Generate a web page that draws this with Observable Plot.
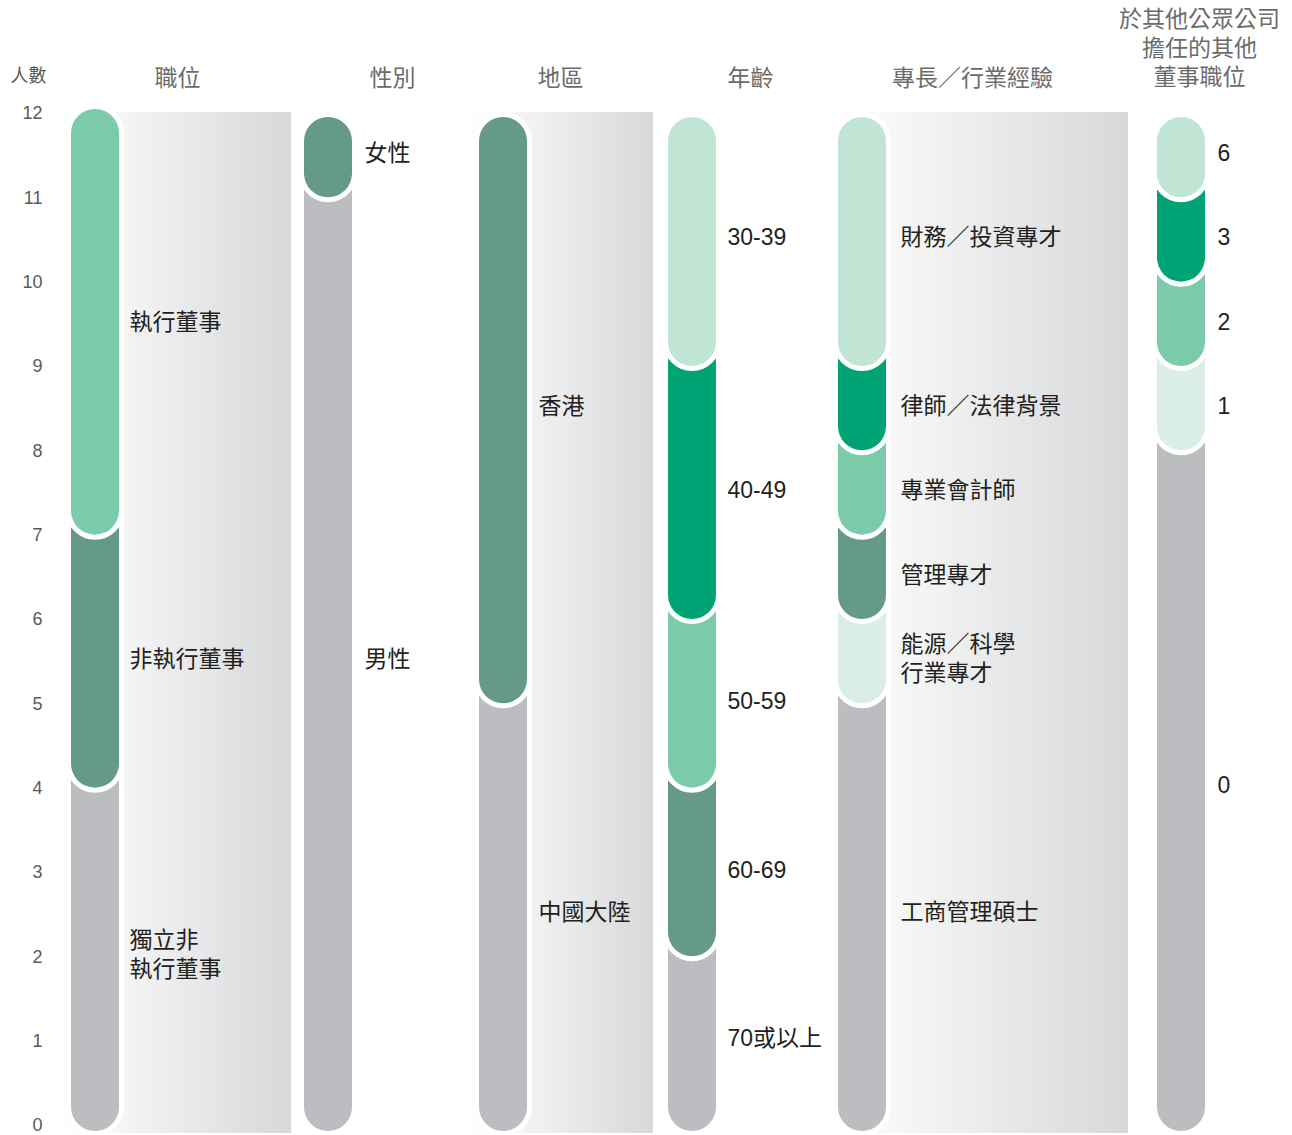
<!DOCTYPE html>
<html>
<head>
<meta charset="utf-8">
<script src="https://cdn.jsdelivr.net/npm/d3@7"></script>
<script src="https://cdn.jsdelivr.net/npm/@observablehq/plot@0.6"></script>
<style>
  html, body { margin: 0; padding: 0; background: #ffffff; }
  #chart { position: relative; width: 1292px; height: 1135px; overflow: hidden; }
  .bg { position: absolute; background: linear-gradient(to right, #ffffff 0%, #d7d8da 100%); }
  .col { position: absolute; top: 0; }
  .col svg { overflow: visible; }
</style>
</head>
<body>
<div id="chart"></div>
<script>
// ---------- data ----------
const yTicks = [0, 1, 2, 3, 4, 5, 6, 7, 8, 9, 10, 11, 12];
const yTitle = "人數";
const headers = ["職位", "性別", "地區", "年齡", "專長／行業經驗", "於其他公眾公司\n擔任的其他\n董事職位"];

const positionCats = ["執行董事", "非執行董事", "獨立非\n執行董事"];
const positionVals = [5, 3, 4];

const genderCats = ["女性", "男性"];
const genderVals = [1, 11];

const regionCats = ["香港", "中國大陸"];
const regionVals = [7, 5];

const ageCats = ["30-39", "40-49", "50-59", "60-69", "70或以上"];
const ageVals = [3, 3, 2, 2, 2];

const expertiseCats = ["財務／投資專才", "律師／法律背景", "專業會計師", "管理專才", "能源／科學\n行業專才", "工商管理碩士"];
const expertiseVals = [3, 1, 1, 1, 1, 5];

const otherCats = ["6", "3", "2", "1", "0"];
const otherVals = [1, 1, 1, 1, 8];

// ---------- styles ----------
const C = {
  mint: "#7bcbab", sage: "#649a87", grey: "#bcbdc0",
  green: "#00a474", pale: "#c1e5d5", paler: "#d9eee5"
};
const positionColors = [C.mint, C.sage, C.grey];
const genderColors = [C.sage, C.grey];
const regionColors = [C.sage, C.grey];
const ageColors = [C.pale, C.green, C.mint, C.sage, C.grey];
const expertiseColors = [C.pale, C.green, C.mint, C.sage, C.paler, C.grey];
const otherColors = [C.pale, C.green, C.mint, C.paler, C.grey];

const FONT = '"Liberation Sans", "Noto Sans CJK TC", "Noto Sans CJK SC", sans-serif';
const BAR = 48;

// ---------- layout (left, width, marginLeft, label gap, header dx/dy) ----------
const columns = [
  {key: "pos", cats: positionCats, vals: positionVals, colors: positionColors, left: 0, width: 291, ml: 71, gap: 10, hdx: 82, hdy: -37, topInset: -4, axis: true},
  {key: "gen", cats: genderCats, vals: genderVals, colors: genderColors, left: 291, width: 177, ml: 13, gap: 12, hdx: 64, hdy: -37, topInset: 4},
  {key: "reg", cats: regionCats, vals: regionVals, colors: regionColors, left: 468, width: 185, ml: 11, gap: 11, hdx: 57, hdy: -37, topInset: 4},
  {key: "age", cats: ageCats, vals: ageVals, colors: ageColors, left: 653, width: 180, ml: 15, gap: 11, hdx: 58, hdy: -37, topInset: 4},
  {key: "exp", cats: expertiseCats, vals: expertiseVals, colors: expertiseColors, left: 833, width: 275, ml: 5, gap: 14, hdx: 110, hdy: -37, topInset: 4},
  {key: "oth", cats: otherCats, vals: otherVals, colors: otherColors, left: 1108, width: 184, ml: 49, gap: 12, hdx: 18, hdy: -67, topInset: 4}
];
const backgrounds = [
  {left: 60, width: 231}, {left: 468, width: 185}, {left: 834, width: 294}
];

function segments(cats, vals) {
  let hi = d3.sum(vals);
  return cats.map((c, i) => {
    const s = {cat: c, hi, lo: hi - vals[i], order: i};
    hi -= vals[i];
    return s;
  });
}

const chart = document.getElementById("chart");
for (const b of backgrounds) {
  const d = document.createElement("div");
  d.className = "bg";
  d.style.left = b.left + "px";
  d.style.width = b.width + "px";
  d.style.top = "112px";
  d.style.height = "1021px";
  chart.appendChild(d);
}

columns.forEach((col, ci) => {
  const segs = segments(col.cats, col.vals);
  const drawn = segs.slice().reverse(); // bottom first, upper segments overlap lower ones
  const bottom = drawn.slice(0, 1);
  const rest = drawn.slice(1);
  const ext = 0.5;
  const pill = {
    x: () => col.key,
    y1: "lo",
    fill: "cat",
    stroke: "white",
    strokeWidth: 10,
    paintOrder: "stroke",
    rx: BAR / 2
  };
  const marks = [
    Plot.barY(bottom, {...pill, y2: d => d.hi + ext, insetBottom: -6, insetTop: col.topInset}),
    Plot.barY(rest, {...pill, y2: d => d.order === 0 ? d.hi : d.hi + ext, insetTop: col.topInset}),
    Plot.text(segs, {
      x: () => col.key,
      y: d => (d.lo + d.hi) / 2,
      text: "cat",
      textAnchor: "start",
      lineAnchor: "middle",
      dx: BAR / 2 + col.gap,
      dy: -4,
      fontSize: 23,
      fill: "#231f20",
      lineHeight: 1.26
    }),
    Plot.text([headers[ci]], {
      frameAnchor: "top",
      lineAnchor: "middle",
      text: d => d,
      dx: col.hdx,
      dy: col.hdy,
      fontSize: 23,
      fill: "#6b6b6b",
      lineHeight: 1.26
    })
  ];
  if (col.axis) {
    marks.push(Plot.text([yTitle], {
      frameAnchor: "top", lineAnchor: "middle", text: d => d, dx: -67, dy: -37, fontSize: 18, fill: "#5a5a5a"
    }));
  }
  const plot = Plot.plot({
    width: col.width,
    height: 1135,
    marginLeft: col.ml,
    marginRight: col.width - col.ml - BAR,
    marginTop: 113,
    marginBottom: 10,
    x: {domain: [col.key], padding: 0, axis: null},
    y: col.axis
      ? {domain: [0, 12], ticks: yTicks, tickSize: 0, tickPadding: 29, label: null}
      : {domain: [0, 12], axis: null},
    color: {domain: col.cats, range: col.colors},
    style: {background: "transparent", fontFamily: FONT, fontSize: "18px", color: "#5a5a5a", overflow: "visible"},
    marks
  });
  const wrap = document.createElement("div");
  wrap.className = "col";
  wrap.style.left = col.left + "px";
  wrap.style.width = col.width + "px";
  wrap.appendChild(plot);
  chart.appendChild(wrap);
});
</script>
</body>
</html>
